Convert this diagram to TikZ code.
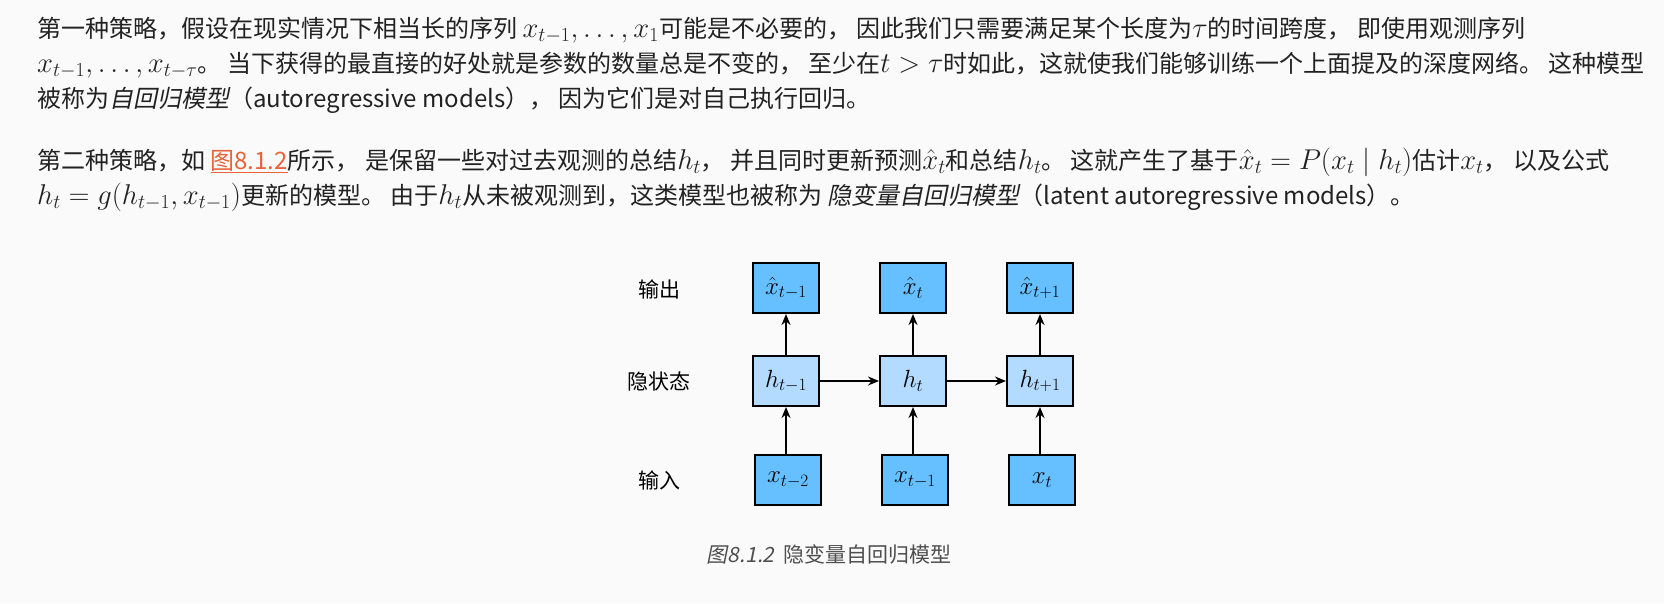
\documentclass[tikz,border=0pt]{standalone}
\usepackage{fontspec}
\usepackage{graphicx}
\setmainfont{Noto Sans CJK SC}[ItalicFont={Noto Sans CJK SC},ItalicFeatures={FakeSlant=0.2}]
\usetikzlibrary{arrows.meta}
\definecolor{bg}{HTML}{FAFAFA}
\definecolor{txt}{HTML}{222222}
\definecolor{lnk}{HTML}{E8633A}
\definecolor{dark}{HTML}{66BFFF}
\definecolor{light}{HTML}{B3DAFF}
\newcommand{\lnktext}[1]{\textcolor{lnk}{\underline{#1}}}
\newcommand{\Mth}[1]{\scalebox{1.15}{$#1$}}
\begin{document}
\begin{tikzpicture}[x=1pt,y=-1pt,
  para/.style={anchor=base west,inner sep=0,text=txt,font=\fontsize{24}{28}\selectfont},
  box/.style={draw=black,line width=2pt,minimum width=66pt,minimum height=50pt,inner sep=0,font=\fontsize{26}{28}\selectfont},
  obox/.style={box,fill=dark},
  hbox/.style={box,fill=light},
  lab/.style={font=\fontsize{21}{24}\selectfont,text=black},
  arr/.style={-{Stealth[length=11pt,width=9pt]},line width=2pt}]
\fill[bg] (0,0) rectangle (1664,603);
\useasboundingbox (0,0) rectangle (1664,603);
\node[para] (l1) at (37,37) {第一种策略，假设在现实情况下相当长的序列 \Mth{x_{t-1}, \ldots, x_1}可能是不必要的， 因此我们只需要满足某个长度为\Mth{\tau}的时间跨度， 即使用观测序列};
\node[para] (l2) at (37,72) {\Mth{x_{t-1}, \ldots, x_{t-\tau}}。 当下获得的最直接的好处就是参数的数量总是不变的， 至少在\Mth{t > \tau}时如此，这就使我们能够训练一个上面提及的深度网络。 这种模型};
\node[para] (l3) at (37,107) {被称为\textit{自回归模型}（autoregressive models）， 因为它们是对自己执行回归。};
\node[para] (l4) at (37,169) {第二种策略，如 \lnktext{图8.1.2}所示， 是保留一些对过去观测的总结\Mth{h_t}， 并且同时更新预测\Mth{\hat{x}_t}和总结\Mth{h_t}。 这就产生了基于\Mth{\hat{x}_t = P(x_t \mid h_t)}估计\Mth{x_t}， 以及公式};
\node[para] (l5) at (37,204) {\Mth{h_t = g(h_{t-1}, x_{t-1})}更新的模型。 由于\Mth{h_t}从未被观测到，这类模型也被称为 \textit{隐变量自回归模型}（latent autoregressive models）。};
% diagram
\node[lab] (lo) at (659,289) {输出};
\node[lab] (lh) at (659,381) {隐状态};
\node[lab] (li) at (659,480) {输入};
\node[obox] (o1) at (786,288) {$\hat{x}_{t-1}$};
\node[obox] (o2) at (913,288) {$\hat{x}_{t}$};
\node[obox] (o3) at (1040,288) {$\hat{x}_{t+1}$};
\node[hbox] (h1) at (786,381) {$h_{t-1}$};
\node[hbox] (h2) at (913,381) {$h_{t}$};
\node[hbox] (h3) at (1040,381) {$h_{t+1}$};
\node[obox] (i1) at (788,480) {$x_{t-2}$};
\node[obox] (i2) at (915,480) {$x_{t-1}$};
\node[obox] (i3) at (1042,480) {$x_{t}$};
\foreach \n in {1,2,3}{
  \draw[arr] (i\n.north -| h\n) -- (h\n.south);
  \draw[arr] (h\n) -- (o\n.south);
}
\draw[arr] (h1) -- (h2);
\draw[arr] (h2) -- (h3);
\node[font=\fontsize{21}{24}\selectfont,text=txt!80] (cap) at (829,554) {\textit{图8.1.2}\hspace{0.4em}隐变量自回归模型};
\end{tikzpicture}
\end{document}
